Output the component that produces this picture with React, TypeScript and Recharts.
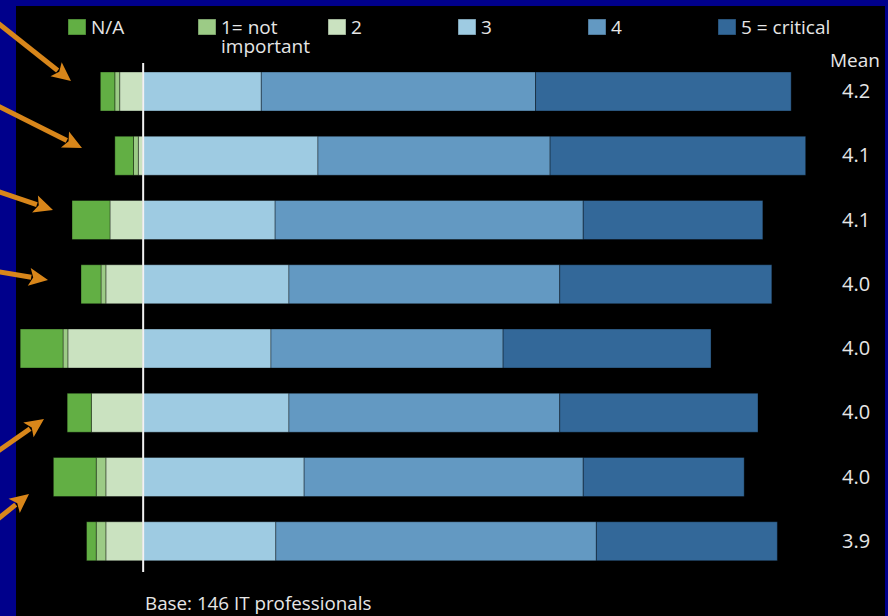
import React from 'react';
import { BarChart, Bar, XAxis, YAxis, ReferenceLine } from 'recharts';

const items = ['Item 1', 'Item 2', 'Item 3', 'Item 4', 'Item 5', 'Item 6', 'Item 7', 'Item 8'];
const naVals = [2.1, 2.7, 5.5, 2.9, 6.2, 3.5, 6.2, 1.4];
const oneVals = [0.7, 0.7, 0, 0.7, 0.7, 0, 1.4, 1.4];
const twoVals = [3.4, 0.7, 4.8, 5.4, 10.9, 7.5, 5.4, 5.4];
const threeVals = [17.1, 25.3, 19.1, 21.1, 18.5, 21.1, 23.3, 19.2];
const fourVals = [39.7, 33.6, 44.6, 39.2, 33.6, 39.2, 40.4, 46.4];
const fiveVals = [37.0, 37.0, 26.0, 30.7, 30.1, 28.7, 23.3, 26.2];
const means = ['4.2', '4.1', '4.1', '4.0', '4.0', '4.0', '4.0', '3.9'];

const legendLabels = ['N/A', '1= not|important', '2', '3', '4', '5 = critical'];
const colors = {
  na: '#62AF44',
  one: '#9CCB86',
  two: '#CAE2C0',
  three: '#9ECBE2',
  four: '#6399C2',
  five: '#336899',
};
const legendColors = [colors.na, colors.one, colors.two, colors.three, colors.four, colors.five];

const data = items.map((item, i) => ({
  item,
  na: -naVals[i],
  one: -oneVals[i],
  two: -twoVals[i],
  three: threeVals[i],
  four: fourVals[i],
  five: fiveVals[i],
}));
const meanByItem: Record<string, string> = {};
items.forEach((it, i) => { meanByItem[it] = means[i]; });

const FONT = '"Open Sans", "DejaVu Sans", sans-serif';
const TEXT = '#E6E6E6';
const ORANGE = '#D8861A';

function Arrow({ x1, y1, x2, y2 }: { x1: number; y1: number; x2: number; y2: number }) {
  const dx = x2 - x1;
  const dy = y2 - y1;
  const len = Math.sqrt(dx * dx + dy * dy);
  const ux = dx / len;
  const uy = dy / len;
  const hl = 19;
  const hw = 9;
  const bx = x2 - ux * hl;
  const by = y2 - uy * hl;
  const px = -uy;
  const py = ux;
  return (
    <g>
      <line x1={x1} y1={y1} x2={bx + ux * 2} y2={by + uy * 2} stroke={ORANGE} strokeWidth={5} />
      <polygon
        points={`${x2},${y2} ${bx + px * hw},${by + py * hw} ${bx + ux * 4},${by + uy * 4} ${bx - px * hw},${by - py * hw}`}
        fill={ORANGE}
      />
    </g>
  );
}

const arrows = [
  { x1: -6, y1: 20, x2: 71, y2: 81 },
  { x1: -6, y1: 104, x2: 82, y2: 148 },
  { x1: -6, y1: 190, x2: 53, y2: 210 },
  { x1: -6, y1: 271, x2: 48, y2: 280 },
  { x1: -6, y1: 454, x2: 44, y2: 419 },
  { x1: -6, y1: 522, x2: 29, y2: 494 },
];

export default function App() {
  const barStroke = 'rgba(0,0,0,0.35)';
  return (
    <div style={{ position: 'absolute', left: 0, top: 0, width: 888, height: 616, background: '#00008B', overflow: 'hidden', fontFamily: FONT }}>
      <div style={{ position: 'absolute', left: 16, top: 6, width: 869, height: 610, background: '#000' }} />
      <div style={{ position: 'absolute', left: 0, top: 0 }}>
        <BarChart
          width={888}
          height={616}
          layout="vertical"
          data={data}
          stackOffset="sign"
          barSize={39}
          margin={{ top: 59, right: 0, bottom: 43, left: 5 }}
        >
          <XAxis type="number" domain={[-20, 100]} hide allowDataOverflow />
          <YAxis
            type="category"
            dataKey="item"
            orientation="right"
            width={54}
            axisLine={false}
            tickLine={false}
            tickFormatter={(v: string) => meanByItem[v]}
            tick={{ fill: TEXT, fontSize: 20, fontFamily: FONT }}
          />
          <Bar dataKey="two" stackId="s" fill={colors.two} stroke={barStroke} isAnimationActive={false} />
          <Bar dataKey="one" stackId="s" fill={colors.one} stroke={barStroke} isAnimationActive={false} />
          <Bar dataKey="na" stackId="s" fill={colors.na} stroke={barStroke} isAnimationActive={false} />
          <Bar dataKey="three" stackId="s" fill={colors.three} stroke={barStroke} isAnimationActive={false} />
          <Bar dataKey="four" stackId="s" fill={colors.four} stroke={barStroke} isAnimationActive={false} />
          <Bar dataKey="five" stackId="s" fill={colors.five} stroke={barStroke} isAnimationActive={false} />
          <ReferenceLine
            x={0}
            stroke="#F2F2F2"
            strokeWidth={2}
            shape={(p: any) => (
              <line x1={p.x1} y1={p.y1 - 1} x2={p.x2} y2={p.y2 + 4} stroke="#F2F2F2" strokeWidth={2} />
            )}
          />
        </BarChart>
      </div>
      <svg width={888} height={616} style={{ position: 'absolute', left: 0, top: 0, pointerEvents: 'none' }}>
        {legendLabels.map((lab, i) => {
          const sx = 68 + i * 130;
          const lines = lab.split('|');
          return (
            <g key={lab}>
              <rect x={sx} y={19} width={18} height={16} fill={legendColors[i]} stroke="rgba(0,0,0,0.4)" />
              <text x={sx + 23} y={34} fill={TEXT} fontSize={19} fontFamily={FONT}>
                {lines.map((ln, j) => (
                  <tspan key={j} x={sx + 23} y={34 + j * 19}>{ln}</tspan>
                ))}
              </text>
            </g>
          );
        })}
        <text x={855} y={67} fill={TEXT} fontSize={19} fontFamily={FONT} textAnchor="middle">Mean</text>
        <text x={145} y={610} fill={TEXT} fontSize={18.8} fontFamily={FONT}>Base: 146 IT professionals</text>
        {arrows.map((a, i) => (
          <Arrow key={i} {...a} />
        ))}
      </svg>
    </div>
  );
}
